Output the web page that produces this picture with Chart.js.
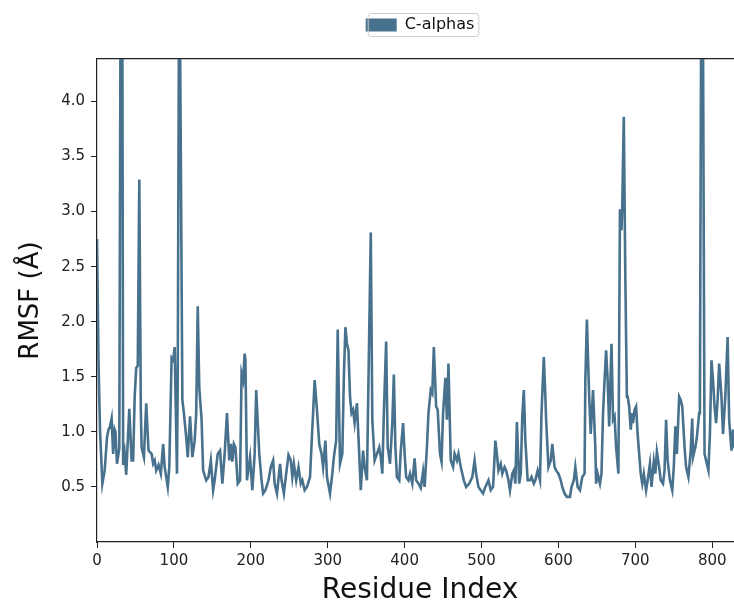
<!DOCTYPE html>
<html>
<head>
<meta charset="utf-8">
<title>RMSF</title>
<script src="https://cdn.jsdelivr.net/npm/chart.js@4.4.0/dist/chart.umd.min.js"></script>
<style>
  html, body { margin: 0; padding: 0; background: #fff; overflow: hidden; }
  #wrap { width: 840px; height: 603px; }
</style>
</head>
<body>
<div id="wrap"><canvas id="rmsfChart" width="840" height="603"></canvas></div>
<script>
// residue index (x) and RMSF in Angstrom (y)
const residues = [
  0, 2, 4, 7, 10, 13, 15, 17, 19, 21, 23, 24, 26, 29, 31, 33, 34, 36, 38, 42,
  45, 47, 49, 51, 53, 55, 57, 58, 61, 64, 67, 71, 73, 75, 77, 80, 83, 86, 88, 92,
  94, 97, 99, 101, 102, 104, 105, 107, 109, 111, 113, 116, 118, 121, 124, 127, 129, 131, 133, 136,
  138, 142, 145, 148, 151, 153, 157, 160, 163, 166, 169, 172, 174, 176, 178, 180, 183, 186, 188, 190,
  192, 193, 195, 199, 202, 205, 207, 211, 214, 216, 219, 223, 226, 229, 231, 234, 238, 240, 243, 246,
  249, 252, 254, 256, 259, 262, 265, 267, 270, 273, 277, 279, 281, 283, 286, 289, 292, 294, 297, 299,
  303, 306, 308, 311, 313, 316, 319, 321, 323, 325, 327, 329, 331, 333, 335, 338, 340, 343, 346, 348,
  351, 353, 356, 358, 361, 364, 367, 369, 371, 373, 376, 378, 381, 384, 386, 388, 390, 393, 395, 398,
  400, 402, 405, 407, 410, 413, 415, 418, 421, 424, 426, 429, 431, 434, 436, 438, 441, 443, 446, 448,
  450, 453, 455, 457, 460, 463, 465, 468, 470, 473, 475, 477, 480, 484, 488, 491, 493, 496, 499, 502,
  505, 509, 512, 515, 518, 520, 522, 525, 527, 530, 532, 535, 537, 540, 542, 544, 546, 549, 551, 553,
  555, 557, 560, 563, 565, 568, 570, 573, 576, 578, 581, 583, 584, 587, 590, 592, 595, 597, 600, 603,
  605, 608, 611, 615, 617, 620, 622, 625, 628, 631, 634, 635, 637, 640, 642, 645, 648, 649, 651, 654,
  656, 658, 660, 662, 664, 666, 669, 671, 673, 675, 678, 680, 682, 683, 685, 687, 689, 690, 692, 694,
  696, 697, 699, 701, 703, 705, 707, 709, 711, 714, 716, 719, 721, 724, 726, 728, 731, 733, 736, 738,
  740, 742, 745, 748, 750, 752, 754, 757, 759, 761, 764, 766, 769, 772, 774, 775, 778, 780, 783, 784,
  786, 788, 790, 792, 795, 797, 799, 801, 803, 805, 807, 809, 812, 814, 817, 820, 822, 825, 827, 829
];
const rmsf = [
  2.75, 1.62, 1.00, 0.53, 0.65, 0.95, 1.02, 1.05, 1.12, 0.80, 1.02, 1.00, 0.71, 0.85, 5.80, 4.50, 0.70, 0.80, 0.61, 1.21,
  0.74, 0.74, 1.32, 1.58, 1.60, 3.29, 1.20, 0.86, 0.77, 1.26, 0.83, 0.80, 0.71, 0.74, 0.65, 0.70, 0.62, 0.89, 0.68, 0.50,
  0.68, 1.67, 1.65, 1.77, 1.38, 0.62, 1.50, 5.60, 3.50, 1.29, 1.17, 0.95, 0.77, 1.14, 0.77, 0.92, 1.17, 2.14, 1.40, 1.11,
  0.65, 0.56, 0.59, 0.74, 0.47, 0.56, 0.80, 0.83, 0.53, 0.80, 1.17, 0.74, 0.89, 0.73, 0.89, 0.86, 0.53, 0.56, 1.53, 1.47,
  1.71, 1.65, 0.56, 0.77, 0.47, 0.80, 1.38, 0.80, 0.56, 0.44, 0.47, 0.56, 0.68, 0.74, 0.53, 0.44, 0.71, 0.56, 0.44, 0.62,
  0.79, 0.74, 0.59, 0.71, 0.56, 0.68, 0.53, 0.56, 0.47, 0.50, 0.59, 0.89, 1.17, 1.47, 1.20, 0.89, 0.80, 0.68, 0.92, 0.59,
  0.44, 0.62, 0.77, 0.92, 1.93, 0.71, 0.80, 1.50, 1.95, 1.80, 1.74, 1.32, 1.17, 1.20, 1.08, 1.26, 0.95, 0.47, 0.83, 0.68,
  0.56, 1.47, 2.81, 1.11, 0.74, 0.80, 0.86, 0.77, 0.62, 1.17, 1.82, 0.86, 0.71, 1.08, 1.52, 0.86, 0.59, 0.56, 0.83, 1.08,
  0.80, 0.59, 0.56, 0.62, 0.53, 0.76, 0.56, 0.53, 0.49, 0.64, 0.50, 0.86, 1.17, 1.38, 1.35, 1.77, 1.23, 1.20, 0.80, 0.73,
  1.17, 1.49, 1.11, 1.62, 0.74, 0.68, 0.80, 0.74, 0.80, 0.68, 0.62, 0.56, 0.50, 0.53, 0.59, 0.74, 0.62, 0.50, 0.47, 0.44,
  0.50, 0.56, 0.47, 0.50, 0.92, 0.80, 0.65, 0.71, 0.62, 0.68, 0.65, 0.56, 0.47, 0.62, 0.65, 0.53, 1.09, 0.53, 0.62, 1.14,
  1.38, 0.92, 0.56, 0.56, 0.59, 0.53, 0.56, 0.65, 0.56, 1.17, 1.68, 1.32, 1.11, 0.68, 0.74, 0.89, 0.68, 0.65, 0.62, 0.56,
  0.50, 0.44, 0.41, 0.41, 0.50, 0.56, 0.68, 0.50, 0.47, 0.59, 0.62, 1.47, 2.02, 1.32, 0.98, 1.38, 0.85, 0.53, 0.62, 0.53,
  0.62, 1.17, 1.47, 1.74, 1.47, 1.05, 1.80, 1.11, 1.14, 0.86, 0.62, 3.02, 2.83, 3.05, 3.86, 2.40, 1.32, 1.32, 1.23, 1.02,
  1.17, 1.08, 1.20, 1.23, 0.98, 0.80, 0.62, 0.53, 0.62, 0.47, 0.56, 0.71, 0.50, 0.73, 0.62, 0.82, 0.68, 0.56, 0.53, 0.65,
  1.11, 0.74, 0.56, 0.47, 0.68, 1.05, 0.80, 1.32, 1.29, 1.23, 0.86, 0.68, 0.59, 0.83, 1.12, 0.77, 0.86, 0.95, 1.17, 1.30,
  5.60, 4.60, 0.80, 0.74, 0.65, 0.98, 1.65, 1.47, 1.23, 1.08, 1.29, 1.62, 1.32, 0.98, 1.32, 1.86, 1.11, 0.83, 1.02, 0.85
];
const xTicks = [0, 100, 200, 300, 400, 500, 600, 700, 800];
const yTicks = [0.5, 1.0, 1.5, 2.0, 2.5, 3.0, 3.5, 4.0];

const lineColor = "#47718d";
const axisColor = "#222222";
const tickFont = { family: "DejaVu Sans", size: 15 };

// matplotlib style legend frame
const legendFrame = {
  id: "legendFrame",
  afterDraw(chart) {
    const box = chart.legend.legendHitBoxes && chart.legend.legendHitBoxes[0];
    if (!box) return;
    const ctx = chart.ctx;
    ctx.save();
    ctx.strokeStyle = "#cccccc";
    ctx.lineWidth = 1;
    ctx.beginPath();
    ctx.roundRect(box.left + 2.5, box.top - 3.5, box.width + 2, box.height + 7, 3);
    ctx.stroke();
    ctx.restore();
  }
};

const points = residues.map((r, i) => ({ x: r, y: rmsf[i] }));

new Chart(document.getElementById("rmsfChart"), {
  type: "line",
  data: {
    datasets: [{
      label: "C-alphas",
      data: points,
      borderColor: lineColor,
      backgroundColor: lineColor,
      borderWidth: 2.6,
      pointRadius: 0,
      tension: 0,
      clip: 0
    }]
  },
  options: {
    responsive: false,
    animation: false,
    layout: { padding: { top: 3, right: 0, left: 0, bottom: 0 } },
    plugins: {
      legend: {
        position: "top",
        labels: {
          boxWidth: 31,
          boxHeight: 13,
          color: "#111",
          padding: 14,
          font: { family: "DejaVu Sans", size: 16 },
          generateLabels: chart => {
            const items = Chart.defaults.plugins.legend.labels.generateLabels(chart);
            items.forEach(it => { it.lineWidth = 0; });
            return items;
          }
        }
      },
      tooltip: { enabled: false }
    },
    scales: {
      x: {
        type: "linear",
        min: 0,
        max: 840,
        afterBuildTicks: s => { s.ticks = xTicks.map(v => ({ value: v })); },
        afterFit: s => { s.height = 61; },
        ticks: { color: axisColor, font: tickFont, padding: 4, maxRotation: 0 },
        grid: { display: true, drawOnChartArea: false, drawTicks: true, tickLength: 6, color: axisColor },
        border: { display: true, color: axisColor, width: 1.2 },
        title: { display: true, text: "Residue Index", color: "#111", font: { family: "DejaVu Sans", size: 28 }, padding: { top: 0, bottom: -5 } }
      },
      x2: {
        type: "linear",
        position: "top",
        min: 0,
        max: 840,
        afterFit: s => { s.height = Math.max(0, 56 - s.chart.legend.height); },
        ticks: { display: false },
        grid: { display: false, drawTicks: false },
        border: { display: true, color: axisColor, width: 1.2 }
      },
      y: {
        min: 0,
        max: 4.385,
        afterBuildTicks: s => { s.ticks = yTicks.map(v => ({ value: v })); },
        afterFit: s => { s.width = 97; },
        ticks: { color: axisColor, font: tickFont, padding: 6, callback: v => v.toFixed(1) },
        grid: { display: true, drawOnChartArea: false, drawTicks: true, tickLength: 6, color: axisColor },
        border: { display: true, color: axisColor, width: 1.2 },
        title: { display: true, text: "RMSF (Å)", color: "#111", font: { family: "DejaVu Sans", size: 26 }, padding: { top: 16, bottom: 0 } }
      },
      // empty right-hand box so the plot area stops at x=743 (cropped by the window)
      y2: {
        position: "right",
        min: 0,
        max: 4.385,
        afterFit: s => { s.width = 97; },
        ticks: { display: false },
        grid: { display: false, drawTicks: false },
        border: { display: false }
      }
    }
  },
  plugins: [legendFrame]
});
</script>
</body>
</html>
